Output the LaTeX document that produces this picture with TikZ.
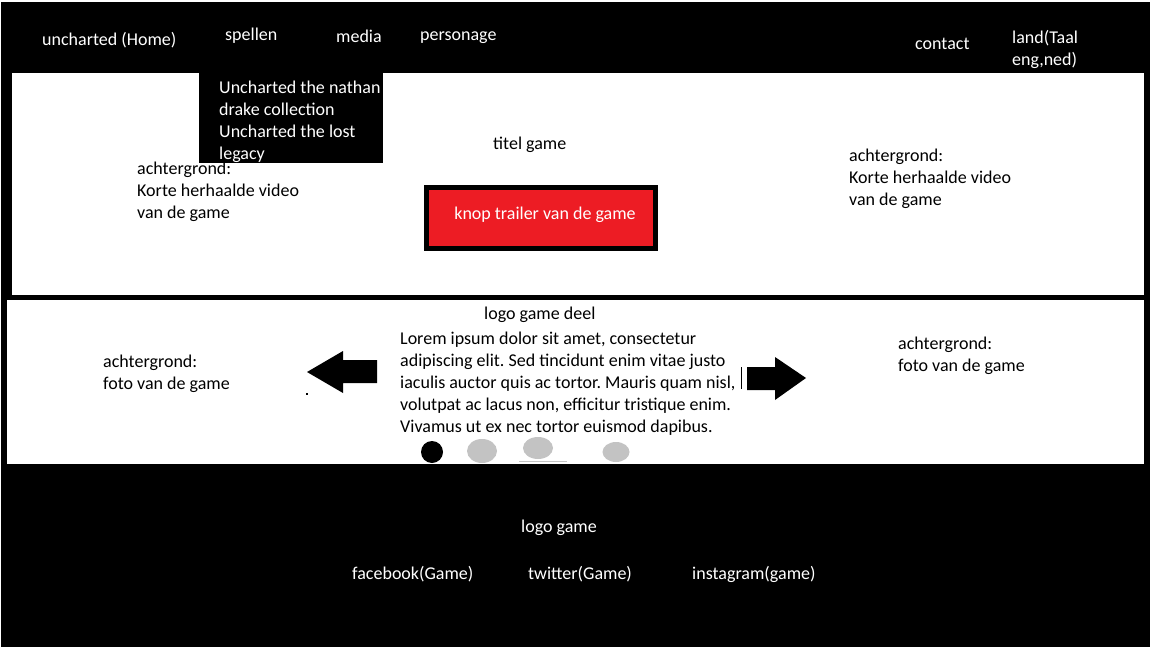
\documentclass[tikz,border=0pt]{standalone}
\usepackage{fontspec}
\setmainfont{Carlito}
\frenchspacing
\definecolor{knoprood}{HTML}{ED1C24}
\definecolor{stipgrijs}{HTML}{C3C3C3}
\tikzset{
	navtekst/.style={text=white,anchor=base west,inner sep=0pt,align=left},
	tekst/.style={anchor=base west,inner sep=0pt,align=left},
	stip/.style={fill=stipgrijs},
}
\begin{document}
\begin{tikzpicture}[x=1pt,y=-1pt,font=\fontsize{18}{22}\selectfont]
	\useasboundingbox (0,0) rectangle (1152,648);
	% vlakken
	\fill[black] (1,2) rectangle (1150,647);
	\fill[white] (12,73) rectangle (1144,295);
	\fill[white] (7,300) rectangle (1144,464);
	\fill[black] (199,73) rectangle (383,163);
	
	% menubalk (meerregelige nodes staan op de basislijn van hun laatste regel)
	\node[navtekst] (home) at (42,45) {uncharted (Home)};
	\node[navtekst] (spellen) at (225,40) {spellen};
	\node[navtekst] (media) at (336,42) {media};
	\node[navtekst] (personage) at (420,40) {personage};
	\node[navtekst] (contact) at (915,49) {contact};
	\node[navtekst] (land) at (1012,65) {land(Taal\\eng,ned)};
	\node[navtekst] (submenu) at (219,159) {Uncharted the nathan\\drake collection\\Uncharted the lost\\legacy};
	
	% header
	\node[tekst] (titel) at (493,149) {titel game};
	\node[tekst] (videolinks) at (137,218) {achtergrond:\\Korte herhaalde video\\van de game};
	\node[tekst] (videorechts) at (849,205) {achtergrond:\\Korte herhaalde video\\van de game};
	\node[draw=black,line width=5pt,fill=knoprood,minimum width=229pt,minimum height=61pt,inner sep=0pt] (knop) at (541,218) {};
	\node[text=white,anchor=base,inner sep=0pt] (knoptekst) at (545,219) {knop trailer van de game};
	
	% slider
	\node[tekst] (logodeel) at (484,319) {logo game deel};
	\node[tekst] (lorem) at (400,432) {Lorem ipsum dolor sit amet, consectetur\\adipiscing elit. Sed tincidunt enim vitae justo\\iaculis auctor quis ac tortor. Mauris quam nisl,\\volutpat ac lacus non, efficitur tristique enim.\\Vivamus ut ex nec tortor euismod dapibus.};
	\node[tekst] (fotolinks) at (103,389) {achtergrond:\\foto van de game};
	\node[tekst] (fotorechts) at (898,371) {achtergrond:\\foto van de game};
	\fill (307,372) -- (343,351) -- (343,360) -- (377,360) -- (377,383) -- (343,383) -- (343,393) -- cycle;
	\fill (806,378) -- (775,357) -- (775,367) -- (747,367) -- (747,390) -- (775,390) -- (775,400) -- cycle;
	\fill (306,393) rectangle (307.5,395);
	\draw[line width=1pt] (741,367) -- (741,389);
	\fill (432,452) circle (11);
	\fill[stip] (482,451) ellipse (15 and 12);
	\fill[stip] (538,448) ellipse (15 and 11);
	\fill[stip] (616,452) ellipse (13.5 and 10);
	\draw[stipgrijs,line width=1pt] (519,461) -- (567,461);
	
	% footer
	\node[navtekst] (logo) at (521,532) {logo game};
	\node[navtekst] (facebook) at (352,579) {facebook(Game)};
	\node[navtekst] (twitter) at (528,579) {twitter(Game)};
	\node[navtekst] (instagram) at (692,579) {instagram(game)};
\end{tikzpicture}
\end{document}
